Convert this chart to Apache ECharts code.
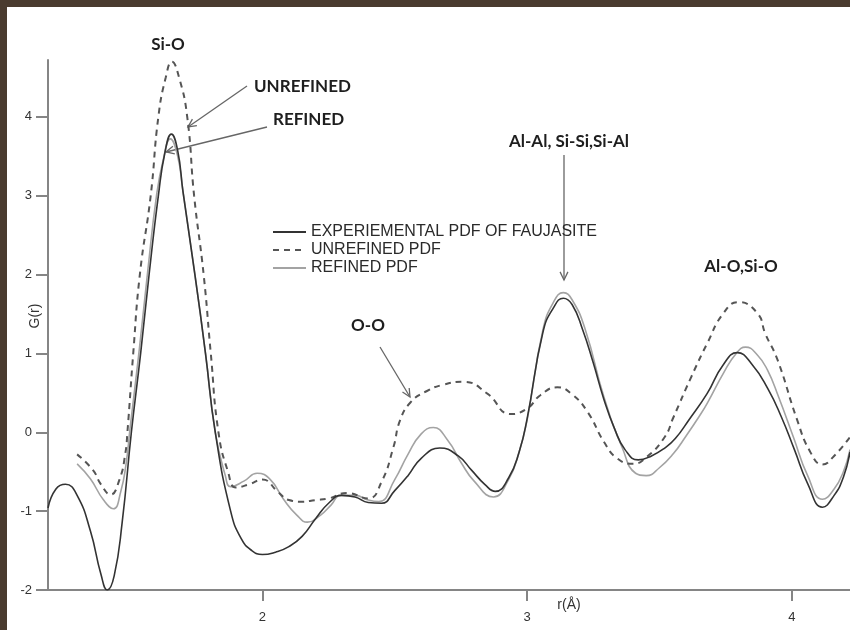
<!DOCTYPE html>
<html>
<head>
<meta charset="utf-8">
<script src="https://cdn.jsdelivr.net/npm/echarts@6/dist/echarts.min.js"></script>
<style>
html,body{margin:0;padding:0;background:#4a3b2f;}
#c{width:850px;height:630px;}
</style>
</head>
<body>
<div id="c"></div>
<script>
// ---- data (r in Å, G(r)) ----
const rExp = [1.19,1.22,1.256,1.30,1.35,1.39,1.414,1.44,1.47,1.505,1.54,1.572,1.607,1.632,1.656,1.68,1.70,1.745,1.785,1.822,1.88,1.92,1.96,2.00,2.05,2.10,2.15,2.20,2.25,2.30,2.35,2.40,2.45,2.50,2.55,2.60,2.67,2.74,2.79,2.84,2.88,2.93,2.97,3.00,3.06,3.10,3.137,3.17,3.21,3.25,3.29,3.33,3.37,3.42,3.47,3.52,3.56,3.61,3.68,3.74,3.794,3.85,3.91,3.96,4.01,4.06,4.116,4.16,4.195,4.22];
const gExp = [-0.96,-0.72,-0.66,-0.80,-1.25,-1.80,-2.00,-1.82,-1.15,0.00,1.00,2.00,3.00,3.55,3.78,3.57,3.05,2.00,1.00,0.00,-1.00,-1.35,-1.50,-1.55,-1.52,-1.45,-1.32,-1.10,-0.90,-0.80,-0.82,-0.89,-0.90,-0.74,-0.55,-0.33,-0.20,-0.30,-0.48,-0.66,-0.75,-0.58,-0.25,0.17,1.27,1.58,1.70,1.62,1.30,0.88,0.42,0.05,-0.22,-0.35,-0.30,-0.20,-0.08,0.15,0.49,0.85,1.01,0.86,0.55,0.20,-0.22,-0.65,-0.95,-0.80,-0.57,-0.25];

const rUnref = [1.30,1.36,1.39,1.426,1.46,1.482,1.49,1.512,1.537,1.578,1.607,1.635,1.658,1.685,1.716,1.742,1.778,1.805,1.834,1.87,1.90,1.95,2.00,2.06,2.10,2.15,2.20,2.25,2.32,2.40,2.45,2.495,2.52,2.56,2.62,2.68,2.76,2.85,2.937,3.00,3.05,3.114,3.17,3.23,3.29,3.34,3.40,3.45,3.52,3.553,3.62,3.681,3.74,3.798,3.87,3.90,3.946,4.02,4.07,4.116,4.16,4.22];
const gUnref = [-0.28,-0.48,-0.66,-0.79,-0.60,-0.27,0.00,1.00,2.00,3.00,4.00,4.50,4.70,4.50,4.00,3.00,2.00,1.00,0.00,-0.50,-0.70,-0.66,-0.60,-0.76,-0.86,-0.88,-0.86,-0.84,-0.77,-0.84,-0.63,-0.19,0.15,0.38,0.52,0.60,0.64,0.49,0.23,0.30,0.47,0.57,0.48,0.25,-0.12,-0.33,-0.40,-0.32,-0.06,0.19,0.70,1.13,1.50,1.65,1.51,1.25,0.92,0.16,-0.25,-0.41,-0.30,-0.06];

const rRef = [1.30,1.35,1.40,1.437,1.465,1.485,1.50,1.535,1.567,1.60,1.625,1.652,1.68,1.70,1.745,1.785,1.822,1.86,1.88,1.93,1.98,2.03,2.08,2.13,2.17,2.22,2.26,2.295,2.35,2.40,2.44,2.50,2.55,2.60,2.646,2.70,2.75,2.80,2.873,2.93,2.97,3.00,3.06,3.10,3.137,3.17,3.22,3.29,3.36,3.41,3.45,3.50,3.553,3.60,3.65,3.681,3.742,3.79,3.825,3.87,3.908,3.95,4.006,4.06,4.116,4.16,4.195,4.22];
const gRef = [-0.40,-0.59,-0.86,-0.97,-0.75,-0.40,0.05,1.05,2.05,3.00,3.45,3.72,3.50,3.05,2.00,1.00,0.00,-0.55,-0.69,-0.62,-0.52,-0.60,-0.85,-1.05,-1.14,-1.05,-0.92,-0.80,-0.80,-0.86,-0.88,-0.60,-0.28,-0.02,0.06,-0.10,-0.38,-0.62,-0.82,-0.60,-0.25,0.15,1.30,1.65,1.77,1.68,1.30,0.45,-0.20,-0.52,-0.55,-0.45,-0.27,-0.05,0.20,0.37,0.75,1.00,1.08,0.98,0.79,0.45,-0.06,-0.55,-0.85,-0.72,-0.50,-0.22];

const xTicks = [2,3,4];
const yTicks = [-2,-1,0,1,2,3,4];
const names = ['EXPERIEMENTAL PDF OF FAUJASITE','UNREFINED PDF','REFINED PDF'];

const zip = (a,b) => a.map((v,i)=>[v,b[i]]);

const chart = echarts.init(document.getElementById('c'), null, {renderer:'canvas'});
const axisCol = '#858585';
const bold = {fontFamily:'Lato', fontWeight:'bold', fontSize:17, fill:'#1e1e1e'};
function arrow(x1,y1,x2,y2){
  const a = Math.atan2(y2-y1,x2-x1), L=9, w=0.45;
  return [
    {type:'line', shape:{x1,y1,x2,y2}, style:{stroke:'#666', lineWidth:1.3}},
    {type:'polyline', shape:{points:[[x2-L*Math.cos(a-w),y2-L*Math.sin(a-w)],[x2,y2],[x2-L*Math.cos(a+w),y2-L*Math.sin(a+w)]]}, style:{stroke:'#666', lineWidth:1.3, fill:null}}
  ];
}
chart.setOption({
  backgroundColor:'#4a3b2f',
  animation:false,
  grid:{left:48, right:0, top:60, bottom:40},
  xAxis:{
    type:'value', min:1.19, max:4.22,
    axisLine:{onZero:false, lineStyle:{color:axisCol, width:2}},
    axisTick:{show:true, customValues:xTicks, length:11, lineStyle:{color:axisCol, width:2}},
    axisLabel:{customValues:xTicks, margin:21, color:'#333', fontSize:13, fontFamily:'Liberation Sans'},
    splitLine:{show:false}
  },
  yAxis:{
    type:'value', min:-2, max:4.72,
    axisLine:{show:true, onZero:false, lineStyle:{color:axisCol, width:2}},
    axisTick:{show:true, customValues:yTicks, length:12, lineStyle:{color:axisCol, width:2}},
    axisLabel:{customValues:yTicks, margin:16, color:'#333', fontSize:13, fontFamily:'Liberation Sans'},
    splitLine:{show:false}
  },
  legend:{
    orient:'vertical', left:267, top:219, itemWidth:33, itemHeight:12, itemGap:2,
    data:names,
    itemStyle:{opacity:0, color:'rgba(0,0,0,0)', borderWidth:0},
    textStyle:{fontFamily:'Liberation Sans', fontSize:16, lineHeight:16, color:'#2a2a2a'}
  },
  series:[
    {name:names[2], type:'line', data:zip(rRef,gRef), smooth:0.5, symbol:'none', z:2,
     lineStyle:{color:'#a3a3a3', width:1.6}, itemStyle:{color:'#a3a3a3'}},
    {name:names[1], type:'line', data:zip(rUnref,gUnref), smooth:0.5, symbol:'none', z:3,
     lineStyle:{color:'#555', width:2, type:[6,5]}, itemStyle:{color:'#555'}},
    {name:names[0], type:'line', data:zip(rExp,gExp), smooth:0.5, symbol:'none', z:4,
     lineStyle:{color:'#333', width:1.6}, itemStyle:{color:'#333'}}
  ],
  graphic:[
    {type:'rect', z:-100, shape:{x:7,y:7,width:843,height:623}, style:{fill:'#fff'}},
    {type:'text', x:168, y:45, style:Object.assign({text:'Si-O', align:'center', verticalAlign:'middle'}, bold)},
    {type:'text', x:254, y:87, style:Object.assign({text:'UNREFINED', align:'left', verticalAlign:'middle'}, bold)},
    {type:'text', x:273, y:120, style:Object.assign({text:'REFINED', align:'left', verticalAlign:'middle'}, bold)},
    {type:'text', x:368, y:326, style:Object.assign({text:'O-O', align:'center', verticalAlign:'middle'}, bold)},
    {type:'text', x:569, y:142, style:Object.assign({text:'Al-Al, Si-Si,Si-Al', align:'center', verticalAlign:'middle'}, bold)},
    {type:'text', x:741, y:267, style:Object.assign({text:'Al-O,Si-O', align:'center', verticalAlign:'middle'}, bold)},
    {type:'text', x:35, y:316, rotation:Math.PI/2, style:{text:'G(r)', align:'center', verticalAlign:'middle', fontFamily:'Liberation Sans', fontSize:14, fill:'#333'}},
    {type:'text', x:569, y:605, style:{text:'r(Å)', align:'center', verticalAlign:'middle', fontFamily:'Liberation Sans', fontSize:14, fill:'#333'}}
  ].concat(arrow(247,86,188,127), arrow(267,127,166,152), arrow(380,347,410,397), arrow(564,155,564,280))
});
</script>
</body>
</html>
